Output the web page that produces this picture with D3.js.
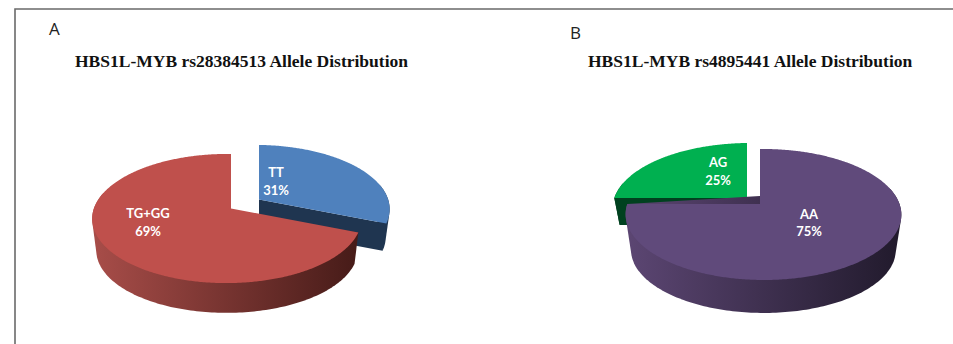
<!DOCTYPE html>
<html>
<head>
<meta charset="utf-8">
<script src="https://cdn.jsdelivr.net/npm/d3@7/dist/d3.min.js"></script>
<style>
  html, body { margin: 0; padding: 0; background: #fff; }
  svg { display: block; }
  .title { font-family: "Liberation Serif", serif; font-weight: 700; font-size: 17.5px; fill: #111; }
  .panel { font-family: "Open Sans", sans-serif; font-size: 17px; fill: #222; }
  .slice-label { font-family: "Lato", sans-serif; font-weight: 700; font-size: 13px; fill: #fff; text-anchor: middle; }
</style>
</head>
<body>
<svg id="fig" width="953" height="344"></svg>
<script>
// Allele distributions for the two HBS1L-MYB variants
const categoriesA = ["TT", "TG+GG"];
const valuesA = [31, 69];
const colorsA = ["#4f81bd", "#bf504c"];
const sideColorsA = [["#1f3550", "#1f3550"], ["#a84d49", "#461b18"]];
const titleA = "HBS1L-MYB rs28384513 Allele Distribution";

const categoriesB = ["AA", "AG"];
const valuesB = [75, 25];
const colorsB = ["#604a7b", "#00b050"];
const sideColorsB = [["#5c4673", "#211a2c"], ["#00411f", "#00411f"]];
const titleB = "HBS1L-MYB rs4895441 Allele Distribution";

const svg = d3.select("#fig");
const defs = svg.append("defs");

// Figure frame, open at the right and bottom
svg.append("path")
  .attr("d", d3.line()([[15, 344], [15, 9], [953, 9]]))
  .attr("fill", "none").attr("stroke", "#6a6a6a").attr("stroke-width", 1.6);

const pie = d3.pie().sort(null).startAngle(0).endAngle(2 * Math.PI);
const line = d3.line().curve(d3.curveLinearClosed);

// Perspective view of the pie's unit disc; angle 0 points away from the viewer.
// A non-zero drop moves the point down onto the slice's floor disc.
function viewer(v) {
  return function (angle, radius, drop) {
    const X = radius * Math.sin(angle), Y = -radius * Math.cos(angle);
    const w = 1 - v.tiltY * Y - v.tiltX * X;
    const s = drop ? v.floorScale : 1;
    return [(v.a * X / w) * s, (v.b * Y / w) * s + drop];
  };
}

function drawPie(cfg) {
  const project = viewer(cfg.view);
  const g = svg.append("g");
  g.append("text").attr("class", "panel")
    .attr("x", cfg.panelX).attr("y", cfg.panelY).text(cfg.panel);
  g.append("text").attr("class", "title")
    .attr("x", cfg.titleX).attr("y", 67).text(cfg.title);

  const arcs = pie(cfg.values);
  arcs.forEach((d, i) => {
    const grad = "side-" + cfg.panel + i;
    defs.append("linearGradient").attr("id", grad)
      .selectAll("stop").data(cfg.sides[i]).join("stop")
      .attr("offset", (c, k) => k).attr("stop-color", c => c);
  });

  // Exploded slices go first so the main slice overlaps their walls
  const order = arcs.map((d, i) => i).sort((p, q) => (cfg.shift[q] ? 1 : 0) - (cfg.shift[p] ? 1 : 0));
  order.forEach(i => {
    const d = arcs[i];
    const [ox, oy] = cfg.shift[i] || [0, 0];
    const drop = cfg.drop[i];
    const slice = g.append("g").attr("transform", `translate(${cfg.cx + ox},${cfg.cy + oy})`);

    // Outer wall: hull of the viewer-facing rim on the top and floor discs
    const from = Math.max(d.startAngle, Math.PI * 0.42);
    const to = Math.min(d.endAngle, Math.PI * 1.58);
    if (to > from) {
      const steps = d3.range(from, to, 0.02).concat([to]);
      const rim = steps.map(a => project(a, 1, 0))
        .concat(steps.map(a => project(a, 1, drop)));
      slice.append("path").attr("d", line(d3.polygonHull(rim))).attr("fill", `url(#side-${cfg.panel}${i})`);
    }

    // Cut face of an exploded slice on the side turned to the viewer
    if (cfg.shift[i]) {
      const edge = cfg.cutAt[i] === "start" ? d.startAngle : d.endAngle;
      slice.append("path").attr("d", line([
        project(edge, 0, 0), project(edge, 1, 0),
        project(edge, 1, drop), project(edge, 0, drop)
      ])).attr("fill", cfg.sides[i][0]);
    }

    // Top face
    const top = [project(0, 0, 0)].concat(
      d3.range(d.startAngle, d.endAngle, 0.01).concat([d.endAngle]).map(a => project(a, 1, 0)));
    slice.append("path").attr("d", line(top)).attr("fill", cfg.colors[i]);
  });

  arcs.forEach((d, i) => {
    const [lx, ly] = cfg.labels[i];
    const t = g.append("text").attr("class", "slice-label");
    t.append("tspan").attr("x", lx).attr("y", ly).text(cfg.categories[i]);
    t.append("tspan").attr("x", lx).attr("y", ly + 17.5).text(cfg.values[i] + "%");
  });
}

drawPie({
  panel: "A", panelX: 49, panelY: 35, title: titleA, titleX: 75,
  categories: categoriesA, values: valuesA, colors: colorsA, sides: sideColorsA,
  cx: 231, cy: 208.5,
  view: { a: 133, b: 63, tiltY: 0.155, tiltX: -0.03, floorScale: 0.97 },
  drop: [28, 32],
  shift: { 0: [28, -9] }, cutAt: { 0: "end" },
  labels: [[276, 177], [148, 218]]
});

drawPie({
  panel: "B", panelX: 570, panelY: 39, title: titleB, titleX: 588,
  categories: categoriesB, values: valuesB, colors: colorsB, sides: sideColorsB,
  cx: 760, cy: 204,
  view: { a: 136, b: 63.8, tiltY: 0.16, tiltX: 0.025, floorScale: 0.96 },
  drop: [36, 27],
  shift: { 1: [-13, -6] }, cutAt: { 1: "start" },
  labels: [[809, 218.5], [718, 167]]
});
</script>
</body>
</html>
